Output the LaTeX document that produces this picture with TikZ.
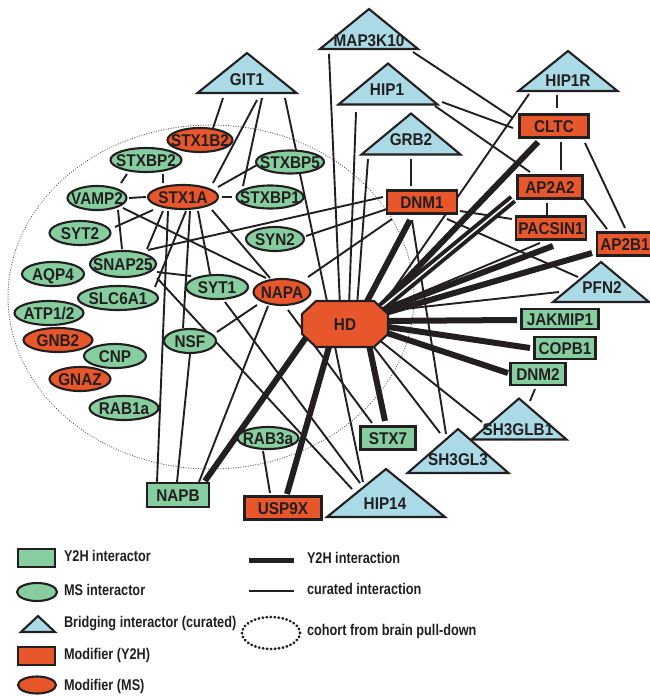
\documentclass[tikz,border=0pt]{standalone}
\usepackage{fontspec}
\setmainfont{Liberation Sans}
\newfontfamily\nodefont{Liberation Sans}[FakeStretch=0.9]
\newfontfamily\legfont{Liberation Sans}[FakeStretch=0.82]
\usetikzlibrary{calc,shapes.geometric}
\definecolor{ink}{RGB}{35,31,32}
\definecolor{ngreen}{RGB}{134,206,160}
\definecolor{nred}{RGB}{232,86,44}
\definecolor{nblue}{RGB}{170,218,230}
\pgfdeclarelayer{bgA}
\pgfdeclarelayer{bgB}
\pgfsetlayers{bgA,bgB,main}
\tikzset{
  every node/.style={inner sep=0pt, outer sep=0pt, text=ink,
    font=\nodefont\fontsize{17}{20}\selectfont\bfseries, text height=12pt, text depth=0pt},
  ell/.style={ellipse, draw=ink, line width=2.1pt},
  box/.style={rectangle, draw=ink, line width=2.1pt},
  cur/.style={draw=ink, line width=1.9pt},
  yth/.style={draw=ink, line width=6pt},
  ythd/.style={draw=ink, line width=4pt, double=white, double distance=1.6pt},
  legtxt/.style={anchor=west, font={\legfont\fontsize{15.5}{18}\selectfont\bfseries}, text height=11pt},
}
\newcommand\EN[6]{\node[ell,fill=#5,minimum width=#3,minimum height=#4] (#1) at (#2) {\makebox[0pt]{#6}};}
\newcommand\RN[6]{\node[box,fill=#5,minimum width=#3,minimum height=#4] (#1) at (#2) {\makebox[0pt]{#6}};}
\newcommand\TN[6]{\node[minimum width=#3,minimum height=#4] (#1) at (#2) {};
  \filldraw[fill=nblue,draw=ink,line width=2.1pt,line join=miter] (#1.south west) -- (#1.north) -- (#1.south east) -- cycle;
  \node (#1-l) at (#5) {\makebox[0pt]{#6}};}
\newcommand\ED[5]{\draw[#1] ([shift={(#3)}]#2.center) -- ([shift={(#5)}]#4.center);}
\begin{document}
\begin{tikzpicture}[x=1pt,y=-1pt]
\useasboundingbox (0,0) rectangle (650,696);
% background and cohort ellipse
\begin{pgfonlayer}{bgA}
\fill[white] (0,0) rectangle (650,696);
\draw[ink!75, line width=1pt, line cap=round, dash pattern=on 0.3pt off 2.2pt] (211,297) ellipse [x radius=203pt, y radius=172pt];
\end{pgfonlayer}
% ellipse nodes
\EN{STX1B2}{200,140}{65}{24}{nred}{STX1B2}
\EN{STXBP2}{146,160}{71}{24}{ngreen}{STXBP2}
\EN{STXBP5}{290,162}{68}{23}{ngreen}{STXBP5}
\EN{VAMP2}{97,198}{59}{24}{ngreen}{VAMP2}
\EN{STX1A}{183,197}{70}{24}{nred}{STX1A}
\EN{STXBP1}{270,197}{67}{23}{ngreen}{STXBP1}
\EN{SYT2}{80,233}{61}{24}{ngreen}{SYT2}
\EN{SYN2}{275,239}{58}{24}{ngreen}{SYN2}
\EN{SNAP25}{123,264}{66}{26}{ngreen}{SNAP25}
\EN{AQP4}{53,274}{62}{24}{ngreen}{AQP4}
\EN{SYT1}{217,287}{62}{24}{ngreen}{SYT1}
\EN{NAPA}{282,292}{57}{26}{nred}{NAPA}
\EN{SLC6A1}{118,298}{80}{24}{ngreen}{SLC6A1}
\EN{ATP12}{49,313}{69}{24}{ngreen}{ATP1/2}
\EN{NSF}{190,341}{52}{24}{ngreen}{NSF}
\EN{GNB2}{58,340}{69}{24}{nred}{GNB2}
\EN{CNP}{115,356}{62}{24}{ngreen}{CNP}
\EN{GNAZ}{80,379}{61}{24}{nred}{GNAZ}
\EN{RAB1a}{124,408}{69}{24}{ngreen}{RAB1a}
\EN{RAB3a}{268,438}{61}{22}{ngreen}{RAB3a}
% rectangle nodes
\RN{CLTC}{554,126}{69}{23}{nred}{CLTC}
\RN{DNM1}{422,202}{70}{23}{nred}{DNM1}
\RN{AP2A2}{550,187}{65}{23}{nred}{AP2A2}
\RN{PACSIN1}{551,228}{70}{23}{nred}{PACSIN1}
\RN{AP2B1}{625,244}{56}{23}{nred}{AP2B1}
\RN{JAKMIP1}{560,319}{77}{20}{ngreen}{JAKMIP1}
\RN{COPB1}{565,348}{61}{22}{ngreen}{COPB1}
\RN{DNM2}{538,374}{55}{22}{ngreen}{DNM2}
\RN{STX7}{388,438}{55}{23}{ngreen}{STX7}
\RN{NAPB}{178,495}{62}{24}{ngreen}{NAPB}
\RN{USP9X}{283,508}{77}{23}{nred}{USP9X}
% triangles
\TN{MAP3K10}{369,29}{98}{40}{369,40}{MAP3K10}
\TN{HIP1}{388,84}{99}{41}{387,89}{HIP1}
\TN{GRB2}{411,134}{99}{41}{411,139}{GRB2}
\TN{HIP1R}{568,71}{99}{40}{568,80}{HIP1R}
\TN{GIT1}{247,73}{99}{40}{247,79}{GIT1}
\TN{PFN2}{601,282}{96}{40}{602,287}{PFN2}
\TN{SH3GLB1}{519,419}{95}{41}{518,429}{SH3GLB1}
\TN{SH3GL3}{458,451}{101}{44}{458,459}{SH3GL3}
\TN{HIP14}{386,493}{118}{48}{385,503}{HIP14}
% HD octagon
\node[minimum width=86, minimum height=46] (HD) at (345,324) {};
\filldraw[fill=nred, draw=ink, line width=2.1pt] ([shift={(-29,-23)}]HD.center) -- ([shift={(29,-23)}]HD.center) -- ([shift={(43,-10)}]HD.center) -- ([shift={(43,10)}]HD.center) -- ([shift={(29,23)}]HD.center) -- ([shift={(-29,23)}]HD.center) -- ([shift={(-43,10)}]HD.center) -- ([shift={(-43,-10)}]HD.center) -- cycle;
\node (HD-l) at (HD.center) {\makebox[0pt]{HD}};
% edges
\begin{pgfonlayer}{bgB}
\ED{cur}{GIT1}{-24,25}{STX1B2}{13,-12}
\ED{cur}{GIT1}{10,27}{STX1A}{30,-14}
\ED{cur}{GIT1}{15,25}{STXBP1}{-27,-11}
\ED{cur}{GIT1}{38,25}{STXBP5}{6,-12}
\ED{cur}{STXBP5}{10,12}{HD}{-17,-18}
\ED{cur}{STX1A}{35,-10}{STXBP5}{-33,3}
\ED{cur}{STX1A}{39,0}{STXBP1}{-38,0}
\ED{cur}{STX1A}{-37,0}{VAMP2}{32,0}
\ED{cur}{STX1A}{-20,-14}{STXBP2}{17,14}
\ED{cur}{STXBP2}{-19,14}{VAMP2}{24,-15}
\ED{cur}{VAMP2}{21,12}{SNAP25}{-1,-15}
\ED{cur}{STX1A}{-30,13}{SYT2}{35,-6}
\ED{cur}{STX1A}{-20,14}{SNAP25}{24,-15}
\ED{cur}{STX1A}{-15,14}{NAPB}{-21,-13}
\ED{cur}{STX1A}{3,14}{SLC6A1}{37,-11}
\ED{cur}{STX1A}{7,14}{NSF}{-7,-13}
\ED{cur}{STX1A}{15,14}{SYT1}{-7,-13}
\ED{cur}{STX1A}{29,13}{NAPA}{-12,-14}
\ED{cur}{VAMP2}{26,10}{NAPA}{-16,-14}
\ED{cur}{SNAP25}{34,8}{SYT1}{-26,-11}
\ED{cur}{SNAP25}{34,14}{HIP14}{-34,-4}
\ED{cur}{SYT1}{8,15}{HIP14}{-26,-10}
\ED{cur}{NSF}{27,-9}{NAPA}{-25,13}
\ED{cur}{NSF}{0,13}{NAPB}{-1,-13}
\ED{cur}{NAPA}{-14,14}{NAPB}{21,-13}
\ED{cur}{NAPA}{6,18}{STX7}{-16,-15}
\ED{cur}{RAB3a}{-5,13}{USP9X}{-13,-15}
\ED{cur}{DNM1}{-39,-5}{SNAP25}{25,-14}
\ED{cur}{DNM1}{-35,7}{SYN2}{31,-3}
\ED{cur}{DNM1}{-30,17}{NAPA}{26,-15}
\ED{cur}{DNM1}{-11,-16}{GRB2}{0,25}
\ED{cur}{DNM1}{38,9}{PACSIN1}{-39,-9}
\ED{cur}{DNM1}{25,17}{PFN2}{-23,-5}
\ED{cur}{DNM1}{-10,18}{SH3GL3}{-12,-17}
\ED{cur}{MAP3K10}{-40,25}{HD}{-5,-18}
\ED{cur}{HIP1}{-32,28}{HD}{4,-18}
\ED{cur}{GRB2}{-43,25}{HD}{12,-18}
\ED{cur}{HIP1R}{-39,23}{HD}{33,-12}
\ED{cur}{MAP3K10}{44,23}{CLTC}{-41,-8}
\ED{cur}{HIP1}{54,18}{CLTC}{-41,2}
\ED{cur}{HIP1}{47,22}{AP2A2}{-20,-15}
\ED{cur}{HIP1R}{-11,24}{CLTC}{3,-18}
\ED{cur}{CLTC}{7,16}{AP2A2}{11,-17}
\ED{cur}{CLTC}{31,17}{AP2B1}{0,-16}
\ED{cur}{AP2A2}{-3,16}{PACSIN1}{-4,-13}
\ED{cur}{AP2A2}{34,12}{AP2B1}{-18,-15}
\ED{cur}{HD}{31,-12}{PFN2}{-42,10}
\ED{cur}{HD}{32,-13}{PACSIN1}{-11,15}
\ED{cur}{HD}{28,11}{SH3GLB1}{-37,3}
\ED{cur}{HD}{25,18}{SH3GL3}{-18,-18}
\ED{cur}{HD}{-11,18}{HIP14}{-23,-11}
\ED{cur}{DNM2}{-3,15}{SH3GLB1}{11,-18}
% Y2H interactions
\ED{yth}{HD}{18,-15}{DNM1}{-12,18}
\ED{yth}{HD}{30,-12}{CLTC}{-16,16}
\ED{ythd}{HD}{32,-13}{AP2A2}{-37,12}
\ED{yth}{HD}{30,-11}{PACSIN1}{2,18}
\ED{yth}{HD}{30,-8}{AP2B1}{-33,9}
\ED{yth}{HD}{30,-3}{JAKMIP1}{-43,1}
\ED{yth}{HD}{30,1}{COPB1}{-35,0}
\ED{yth}{HD}{30,5}{DNM2}{-30,-1}
\ED{yth}{HD}{23,16}{STX7}{-3,-17}
\ED{yth}{HD}{-14,16}{USP9X}{4,-14}
\ED{yth}{HD}{-33,5}{NAPB}{27,-14}
\end{pgfonlayer}
% legend
\RN{LgA}{36.5,558}{37}{18}{ngreen}{}
\EN{LgB}{37,592}{40}{18}{ngreen}{}
\TN{LgC}{38,624}{34}{16}{38,624}{}
\RN{LgD}{36.5,656}{37}{18}{nred}{}
\EN{LgE}{37,685}{38}{17}{nred}{}
\node[legtxt] (LtA) at (64,556) {Y2H interactor};
\node[legtxt] (LtB) at (64,590) {MS interactor};
\node[legtxt] (LtC) at (64,622) {Bridging interactor (curated)};
\node[legtxt] (LtD) at (64,654) {Modifier (Y2H)};
\node[legtxt] (LtE) at (64,685) {Modifier (MS)};
\coordinate (La1) at (249,560);
\coordinate (La2) at (294,560);
\coordinate (Lb1) at (249,591);
\coordinate (Lb2) at (294,591);
\draw[ink, line width=5pt] (La1) -- (La2);
\draw[ink, line width=2pt] (Lb1) -- (Lb2);
\node[ellipse, minimum width=58, minimum height=32] (LgF) at (271,633) {};
\draw[ink, line width=2.8pt, line cap=round, dash pattern=on 0.4pt off 3.6pt] (LgF.center) ellipse [x radius=29pt, y radius=16pt];
\node[legtxt] (LtF) at (307,558) {Y2H interaction};
\node[legtxt] (LtG) at (307,589) {curated interaction};
\node[legtxt] (LtH) at (307,630) {cohort from brain pull-down};
\end{tikzpicture}
\end{document}
